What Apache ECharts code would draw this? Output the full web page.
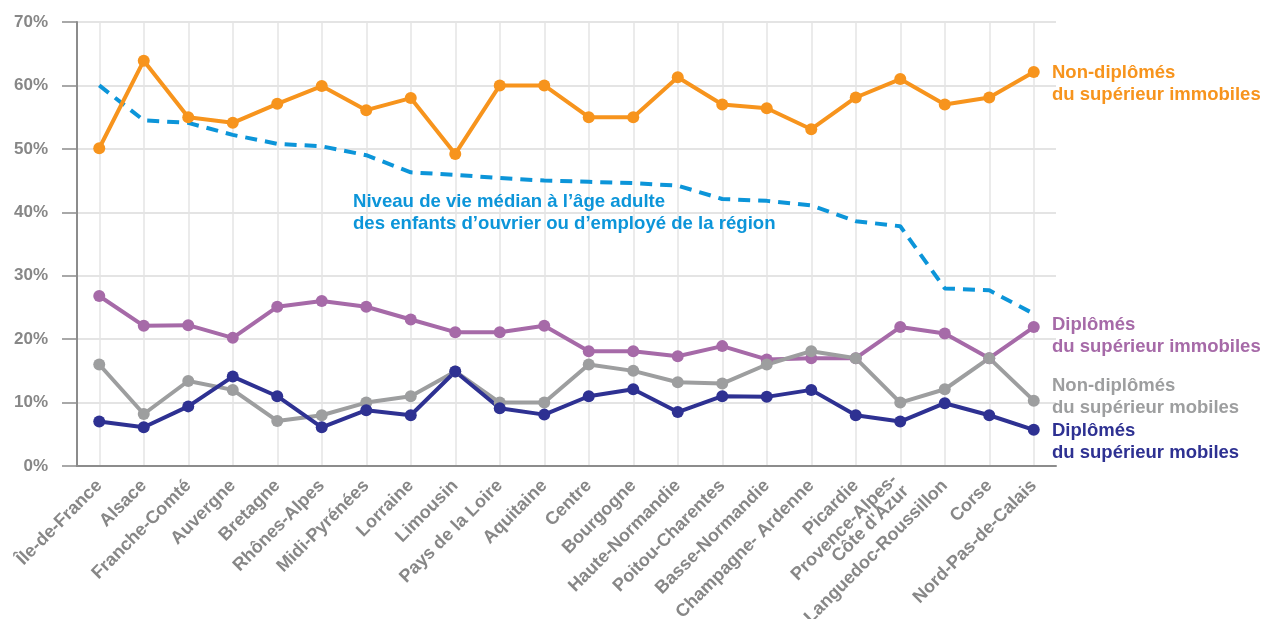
<!DOCTYPE html>
<html>
<head>
<meta charset="utf-8">
<script src="https://cdn.jsdelivr.net/npm/echarts@6/dist/echarts.min.js"></script>
<style>
html, body { margin: 0; padding: 0; background: #fff; }
#chart { width: 1263px; height: 619px; }
</style>
</head>
<body>
<div id="chart"></div>
<script>
var regions = ['Île-de-France', 'Alsace', 'Franche-Comté', 'Auvergne', 'Bretagne', 'Rhônes-Alpes',
    'Midi-Pyrénées', 'Lorraine', 'Limousin', 'Pays de la Loire', 'Aquitaine', 'Centre', 'Bourgogne',
    'Haute-Normandie', 'Poitou-Charentes', 'Basse-Normandie', 'Champagne- Ardenne', 'Picardie',
    'Provence-Alpes-\nCôte d\'Azur', 'Languedoc-Roussillon', 'Corse', 'Nord-Pas-de-Calais']

// niveau de vie médian (courbe en tirets)
var niveauVie = [60, 54.5, 54.1, 52.2, 50.8, 50.4, 49.0, 46.3, 45.9, 45.4, 45.0, 44.8, 44.6, 44.2,
    42.1, 41.8, 41.1, 38.6, 37.8, 28.0, 27.7, 24.0]
var nonDiplImmobiles = [50.1, 63.9, 55.0, 54.1, 57.1, 59.9, 56.1, 58.0, 49.2, 60.0, 60.0, 55.0, 55.0,
    61.3, 57.0, 56.4, 53.1, 58.1, 61.0, 57.0, 58.1, 62.1]
var diplImmobiles = [26.8, 22.1, 22.2, 20.2, 25.1, 26.0, 25.1, 23.1, 21.1, 21.1, 22.1, 18.1, 18.1,
    17.3, 18.9, 16.8, 17.0, 17.0, 21.9, 20.9, 17.0, 21.9]
var nonDiplMobiles = [16.0, 8.2, 13.4, 12.0, 7.1, 8.0, 10.0, 11.0, 14.9, 10.0, 10.0, 16.0, 15.0,
    13.2, 13.0, 16.0, 18.1, 17.0, 10.0, 12.1, 17.0, 10.3]
var diplMobiles = [7.0, 6.1, 9.4, 14.1, 11.0, 6.1, 8.8, 8.0, 14.9, 9.1, 8.1, 11.0, 12.1,
    8.5, 11.0, 10.9, 12.0, 8.0, 7.0, 9.9, 8.0, 5.7]
var yTicks = [0, 10, 20, 30, 40, 50, 60, 70]

var FONT = '"Liberation Sans", Arial, Helvetica, sans-serif'
var GREY = '#878787'
var AXIS = '#8c8c8c'

var chart = echarts.init(document.getElementById('chart'))

function lineSerie(name, data, color) {
    return {
        name: name,
        type: 'line',
        data: data,
        symbol: 'circle',
        symbolSize: 12,
        lineStyle: { color: color, width: 4 },
        itemStyle: { color: color },
        z: 3
    }
}

// texte positionné à côté des courbes
function label(text, x, y, color, size) {
    return {
        type: 'text',
        x: x,
        y: y,
        style: {
            text: text,
            fill: color,
            font: 'bold ' + size + 'px ' + FONT,
            lineHeight: 22,
            verticalAlign: 'top'
        },
        z: 10
    }
}

chart.setOption({
    animation: false,
    grid: { left: 77, right: 207, top: 22, bottom: 153, containLabel: false, outerBoundsMode: 'none' },
    xAxis: {
        type: 'category',
        data: regions,
        boundaryGap: true,
        axisLine: { lineStyle: { color: AXIS, width: 2 } },
        axisTick: { alignWithLabel: true, length: 12, lineStyle: { color: AXIS, width: 1.5 } },
        splitLine: { show: true, alignWithLabel: true, lineStyle: { color: '#e4e4e4', width: 1.5 } },
        axisLabel: {
            interval: 0,
            rotate: 45,
            margin: 17,
            color: GREY,
            fontFamily: FONT,
            fontWeight: 'bold',
            fontSize: 18,
            lineHeight: 16
        }
    },
    yAxis: {
        type: 'value',
        min: yTicks[0],
        max: yTicks[yTicks.length - 1],
        interval: 10,
        axisLine: { show: true, lineStyle: { color: AXIS, width: 2 } },
        axisTick: { show: true, length: 15, lineStyle: { color: AXIS, width: 1.5 } },
        splitLine: { lineStyle: { color: '#e4e4e4', width: 2 } },
        axisLabel: {
            margin: 29,
            color: GREY,
            fontFamily: FONT,
            fontWeight: 'bold',
            fontSize: 17,
            formatter: '{value}%'
        }
    },
    series: [
        {
            name: 'Niveau de vie',
            type: 'line',
            data: niveauVie,
            symbol: 'none',
            lineStyle: { color: '#0c95d9', width: 4, type: [12, 8] },
            z: 2
        },
        lineSerie('Non-diplômés du supérieur immobiles', nonDiplImmobiles, '#f7941d'),
        lineSerie('Diplômés du supérieur immobiles', diplImmobiles, '#a66aa8'),
        lineSerie('Non-diplômés du supérieur mobiles', nonDiplMobiles, '#9d9e9f'),
        lineSerie('Diplômés du supérieur mobiles', diplMobiles, '#2e3192')
    ],
    graphic: [
        label('Niveau de vie médian à l’âge adulte\ndes enfants d’ouvrier ou d’employé de la région', 353, 191, '#0c95d9', 18.6),
        label('Non-diplômés\ndu supérieur immobiles', 1052, 62, '#f7941d', 18.5),
        label('Diplômés\ndu supérieur immobiles', 1052, 314, '#a66aa8', 18.5),
        label('Non-diplômés\ndu supérieur mobiles', 1052, 375, '#9d9e9f', 18.5),
        label('Diplômés\ndu supérieur mobiles', 1052, 420, '#2e3192', 18.5)
    ]
})
</script>
</body>
</html>
